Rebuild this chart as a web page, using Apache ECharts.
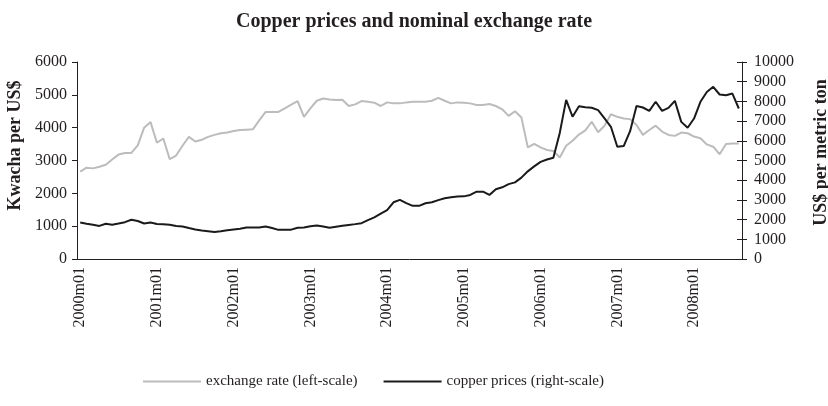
<!DOCTYPE html>
<html>
<head>
<meta charset="utf-8">
<script src="https://cdn.jsdelivr.net/npm/echarts@6/dist/echarts.min.js"></script>
<style>
  html, body { margin: 0; padding: 0; background: #fff; }
  #chart { width: 828px; height: 406px; }
</style>
</head>
<body>
<div id="chart"></div>
<script>
// monthly data, 2000m01 .. 2008m08
var years = [2000, 2001, 2002, 2003, 2004, 2005, 2006, 2007, 2008];
var lastMonth = 8; // 2008 stops in August

// Kwacha per US$ (left scale)
var exchangeRate = [
  2660, 2780, 2760, 2810, 2870, 3030, 3180, 3230, 3230, 3460, 4000, 4170,
  3540, 3670, 3040, 3150, 3450, 3720, 3580, 3630, 3720, 3780, 3830, 3850,
  3900, 3930, 3940, 3950, 4220, 4480, 4480, 4480, 4590, 4700, 4810, 4330,
  4590, 4820, 4890, 4860, 4840, 4850, 4660, 4710, 4810, 4790, 4760, 4660,
  4770, 4740, 4740, 4770, 4790, 4790, 4790, 4820, 4910, 4820, 4740, 4770,
  4760, 4740, 4690, 4690, 4720, 4660, 4560, 4360, 4500, 4310, 3400, 3510,
  3400, 3320, 3290, 3090, 3450, 3600, 3790, 3920, 4180, 3860, 4060, 4410,
  4330, 4280, 4260, 4080, 3780, 3930, 4060, 3880, 3780, 3750, 3850, 3830,
  3730, 3680, 3490, 3420, 3190, 3500, 3520, 3520
];

// US$ per metric ton (right scale)
var copperPrice = [
  1850, 1790, 1740, 1680, 1790, 1740, 1800, 1870, 1990, 1930, 1800, 1850,
  1780, 1770, 1740, 1670, 1650, 1570, 1500, 1450, 1410, 1370, 1410, 1460,
  1500, 1540, 1600, 1600, 1600, 1650, 1570, 1480, 1480, 1490, 1590, 1600,
  1660, 1700, 1650, 1590, 1640, 1690, 1730, 1770, 1820, 1970, 2110, 2300,
  2480, 2880, 3000, 2840, 2700, 2700, 2830, 2880, 2990, 3080, 3140, 3170,
  3180, 3250, 3420, 3420, 3250, 3540, 3640, 3800, 3890, 4130, 4450, 4700,
  4930, 5050, 5140, 6400, 8080, 7220, 7750, 7700, 7680, 7560, 7140, 6710,
  5700, 5730, 6490, 7770, 7690, 7520, 7980, 7520, 7670, 8030, 6960, 6660,
  7130, 7980, 8480, 8740, 8350, 8310, 8400, 7640
];

var months = [];
years.forEach(function (y) {
  for (var m = 1; m <= 12; m++) {
    if (y === 2008 && m > lastMonth) break;
    months.push(y + 'm' + (m < 10 ? '0' + m : m));
  }
});

var serif = '"Liberation Serif", "DejaVu Serif", serif';
var ink = '#231f20';

// plain numbers, no thousands separator
function plain(v) { return String(v); }

var chart = echarts.init(document.getElementById('chart'));
var option = {
  animation: false,
  title: {
    text: 'Copper prices and nominal exchange rate',
    left: 'center',
    top: 7,
    textStyle: { fontFamily: serif, fontSize: 20, fontWeight: 'bold', color: ink }
  },
  legend: {
    left: 138,
    top: 369,
    itemWidth: 58,
    itemHeight: 2,
    itemGap: 26,
    icon: 'rect',
    textStyle: { fontFamily: serif, fontSize: 15, color: ink },
    data: ['exchange rate (left-scale)', 'copper prices (right-scale)']
  },
  grid: {
    left: 77, right: 86, top: 62, bottom: 147,
    containLabel: false, outerBoundsMode: 'none'
  },
  xAxis: {
    type: 'category',
    data: months,
    boundaryGap: true,
    axisLine: { lineStyle: { color: ink, width: 1 } },
    axisTick: { interval: 0, length: 4, lineStyle: { color: ink } },
    axisLabel: {
      interval: 11, rotate: 90, margin: 8,
      fontFamily: serif, fontSize: 16, color: ink
    },
    splitLine: { show: false }
  },
  yAxis: [
    {
      type: 'value', position: 'left', min: 0, max: 6000, interval: 1000,
      name: 'Kwacha per US$', nameLocation: 'middle', nameGap: 52, nameRotate: 90,
      nameTextStyle: {
        fontFamily: serif, fontSize: 18, fontWeight: 'bold', color: ink,
        padding: [0, 0, 0, 30]
      },
      axisLine: { show: true, lineStyle: { color: ink } },
      axisTick: { show: true, length: 5, lineStyle: { color: ink } },
      axisLabel: { margin: 10, fontFamily: serif, fontSize: 16, color: ink, formatter: plain },
      splitLine: { show: false }
    },
    {
      type: 'value', position: 'right', min: 0, max: 10000, interval: 1000,
      name: 'US$ per metric ton', nameLocation: 'middle', nameGap: 70, nameRotate: 90,
      nameTextStyle: {
        fontFamily: serif, fontSize: 18, fontWeight: 'bold', color: ink,
        padding: [0, 0, 0, 16]
      },
      axisLine: { show: true, lineStyle: { color: ink } },
      axisTick: { show: true, length: 5, lineStyle: { color: ink } },
      axisLabel: { margin: 12, fontFamily: serif, fontSize: 16, color: ink, formatter: plain },
      splitLine: { show: false }
    },
    {
      // inner half of the right-hand cross ticks
      type: 'value', position: 'right', min: 0, max: 10000, interval: 1000,
      axisLine: { show: false },
      axisTick: { show: true, inside: true, length: 5, lineStyle: { color: ink } },
      axisLabel: { show: false },
      splitLine: { show: false }
    }
  ],
  series: [
    {
      name: 'exchange rate (left-scale)',
      type: 'line',
      yAxisIndex: 0,
      data: exchangeRate,
      showSymbol: false,
      symbol: 'none',
      lineStyle: { color: '#bcbcbc', width: 2 },
      itemStyle: { color: '#bcbcbc' }
    },
    {
      name: 'copper prices (right-scale)',
      type: 'line',
      yAxisIndex: 1,
      data: copperPrice,
      showSymbol: false,
      symbol: 'none',
      lineStyle: { color: '#1a1a1a', width: 2 },
      itemStyle: { color: '#1a1a1a' }
    }
  ]
};
chart.setOption(option);

window.addEventListener('resize', function () {
  chart.resize();
});
</script>
</body>
</html>
